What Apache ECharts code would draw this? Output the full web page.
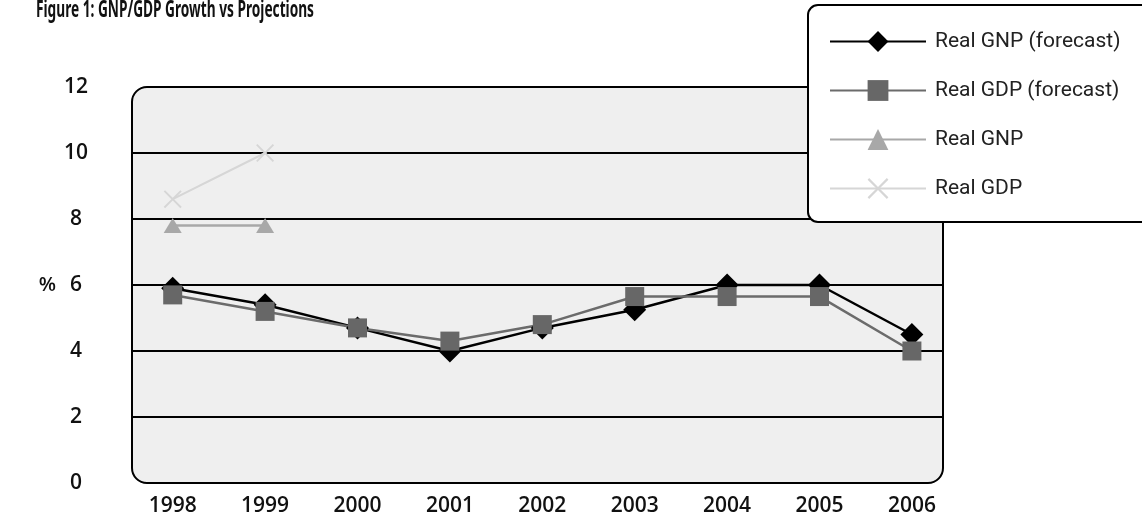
<!DOCTYPE html>
<html>
<head>
<meta charset="utf-8">
<script src="https://cdn.jsdelivr.net/npm/echarts@6/dist/echarts.min.js"></script>
<style>
  html, body { margin: 0; padding: 0; background: #fff; }
  #chart { width: 1142px; height: 522px; }
</style>
</head>
<body>
<div id="chart"></div>
<script>
const years = ['1998', '1999', '2000', '2001', '2002', '2003', '2004', '2005', '2006'];
const gnpForecast = [5.9, 5.4, 4.7, 4.0, 4.7, 5.25, 6.0, 6.0, 4.5];
const gdpForecast = [5.7, 5.2, 4.7, 4.3, 4.8, 5.65, 5.65, 5.65, 4.0];
const realGnp = [7.8, 7.8, null, null, null, null, null, null, null];
const realGdp = [8.6, 10.0, null, null, null, null, null, null, null];
const yTicks = [0, 2, 4, 6, 8, 10, 12];

// plot box (rounded rect behind the lines)
const plotLeft = 132, plotTop = 87, plotRight = 943, plotBottom = 483;

const crossPath = 'path://M0,1.5 L1.5,0 L10,8.5 L18.5,0 L20,1.5 L11.5,10 L20,18.5 L18.5,20 L10,11.5 L1.5,20 L0,18.5 L8.5,10 Z';
const labelFont = '"Open Sans", "Noto Sans", sans-serif';

const myChart = echarts.init(document.getElementById('chart'));
const option = {
  animation: false,
  backgroundColor: '#fff',
  graphic: [
    {
      type: 'rect',
      z: -1,
      shape: {
        x: plotLeft,
        y: plotTop,
        width: plotRight - plotLeft,
        height: plotBottom - plotTop,
        r: 15,
      },
      style: { fill: '#efefef', stroke: '#000', lineWidth: 2 },
    },
    {
      // title, squeezed to match the condensed face of the original
      type: 'text',
      x: 36,
      y: 10,
      scaleX: 0.57,
      style: {
        text: 'Figure 1: GNP/GDP Growth vs Projections',
        fontFamily: '"Noto Sans", sans-serif',
        fontSize: 24,
        fontWeight: 'bold',
        fill: '#111',
        align: 'left',
        verticalAlign: 'middle',
      },
    },
  ],
  legend: {
    orient: 'vertical',
    left: 808,
    top: 5,
    itemWidth: 96,
    itemHeight: 26,
    itemGap: 28,
    padding: [26, 40, 23, 21],
    backgroundColor: '#fff',
    borderColor: '#000',
    borderWidth: 2,
    borderRadius: 10,
    textStyle: {
      fontFamily: 'Roboto, sans-serif',
      fontSize: 21,
      color: '#222',
      padding: [0, 0, 0, 4],
    },
    data: ['Real GNP (forecast)', 'Real GDP (forecast)', 'Real GNP', 'Real GDP'],
  },
  grid: [
    // axes + gridlines, same size as the rounded box
    { left: plotLeft, top: plotTop, width: plotRight - plotLeft, height: plotBottom - plotTop },
    // data grid, so that the category centres fall where the reference has them
    { left: 126.5, top: plotTop, width: 831.6, height: plotBottom - plotTop },
  ],
  xAxis: [
    { gridIndex: 0, type: 'value', min: 0, max: 1, show: false },
    {
      gridIndex: 1,
      type: 'category',
      data: years,
      boundaryGap: true,
      axisLine: { show: false },
      axisTick: { show: false },
      axisLabel: {
        margin: 13,
        fontFamily: labelFont,
        fontSize: 21,
        fontWeight: 600,
        color: '#111',
      },
    },
  ],
  yAxis: [
    {
      gridIndex: 0,
      type: 'value',
      min: yTicks[0],
      max: yTicks[yTicks.length - 1],
      interval: 2,
      name: '%',
      nameLocation: 'middle',
      nameRotate: 0,
      nameGap: 76,
      nameTextStyle: { fontFamily: labelFont, fontSize: 20, fontWeight: 600, color: '#111' },
      axisLine: { show: false },
      axisTick: { show: false },
      axisLabel: {
        align: 'center',
        verticalAlign: 'top',
        margin: 56,
        padding: [-10, 0, 0, 0],
        fontFamily: labelFont,
        fontSize: 21,
        fontWeight: 600,
        color: '#111',
      },
      splitLine: {
        show: true,
        showMinLine: false,
        showMaxLine: false,
        lineStyle: { color: '#000', width: 2 },
      },
    },
    { gridIndex: 1, type: 'value', min: 0, max: 12, show: false },
  ],
  series: [
    {
      name: 'Real GNP (forecast)',
      type: 'line',
      xAxisIndex: 1,
      yAxisIndex: 1,
      data: gnpForecast,
      symbol: 'diamond',
      symbolSize: [23, 23],
      lineStyle: { color: '#000', width: 2.5 },
      itemStyle: { color: '#000' },
    },
    {
      name: 'Real GDP (forecast)',
      type: 'line',
      xAxisIndex: 1,
      yAxisIndex: 1,
      data: gdpForecast,
      symbol: 'rect',
      symbolSize: 19,
      lineStyle: { color: '#6b6b6b', width: 2.5 },
      itemStyle: { color: '#676767' },
    },
    {
      name: 'Real GNP',
      type: 'line',
      xAxisIndex: 1,
      yAxisIndex: 1,
      data: realGnp,
      symbol: 'triangle',
      symbolSize: [18, 15],
      lineStyle: { color: '#a8a8a8', width: 2.5 },
      itemStyle: { color: '#a8a8a8' },
    },
    {
      name: 'Real GDP',
      type: 'line',
      xAxisIndex: 1,
      yAxisIndex: 1,
      data: realGdp,
      symbol: crossPath,
      symbolSize: 18,
      lineStyle: { color: '#d6d6d6', width: 2 },
      itemStyle: { color: '#d6d6d6' },
    },
  ],
};

option && myChart.setOption(option);
</script>
</body>
</html>
